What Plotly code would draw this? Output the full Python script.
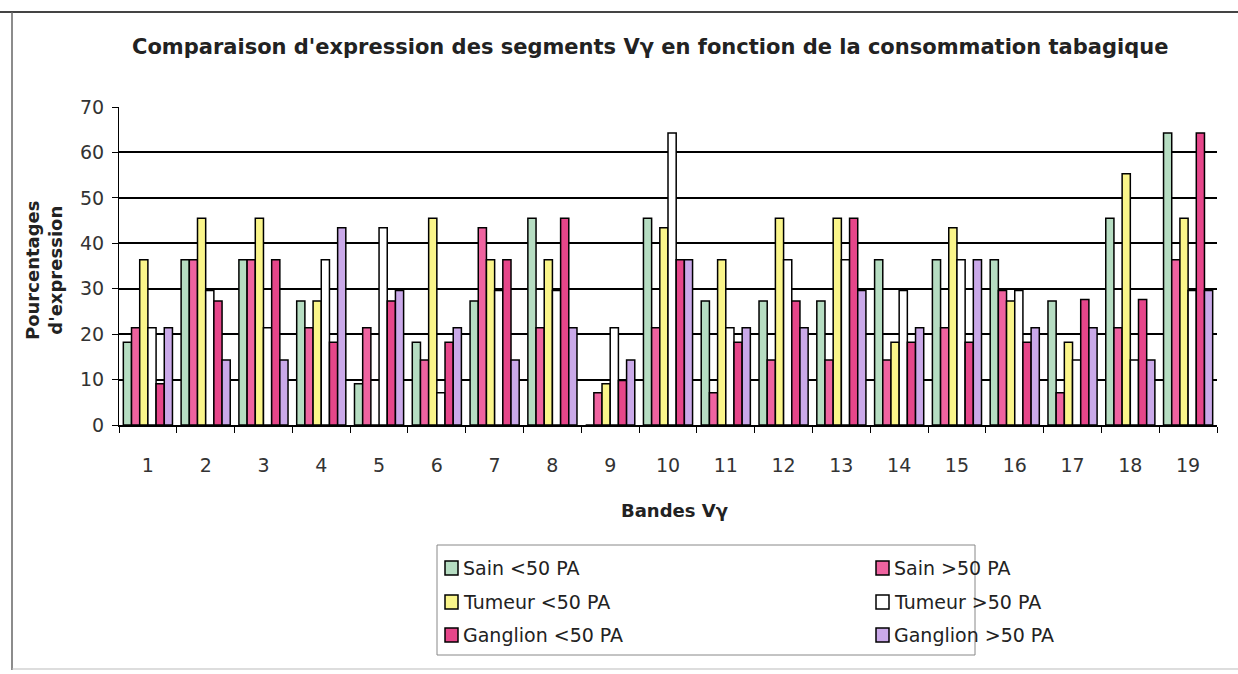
import plotly.graph_objects as go

# Bandes Vγ 1..19
bandes = [str(i) for i in range(1, 20)]

sain_moins = [18.2, 36.4, 36.4, 27.3, 9.1, 18.2, 27.3, 45.5, 0, 45.5, 27.3, 27.3, 27.3, 36.4, 36.4, 36.4, 27.3, 45.5, 64.3]
sain_plus = [21.4, 36.4, 36.4, 21.4, 21.4, 14.3, 43.4, 21.4, 7.1, 21.4, 7.1, 14.3, 14.3, 14.3, 21.4, 29.6, 7.1, 21.4, 36.4]
tumeur_moins = [36.4, 45.5, 45.5, 27.3, 0, 45.5, 36.4, 36.4, 9.1, 43.4, 36.4, 45.5, 45.5, 18.2, 43.4, 27.3, 18.2, 55.3, 45.5]
tumeur_plus = [21.4, 29.6, 21.4, 36.4, 43.4, 7.1, 29.6, 29.6, 21.4, 64.3, 21.4, 36.4, 36.4, 29.6, 36.4, 29.6, 14.3, 14.3, 29.6]
ganglion_moins = [9.1, 27.3, 36.4, 18.2, 27.3, 18.2, 36.4, 45.5, 9.8, 36.4, 18.2, 27.3, 45.5, 18.2, 18.2, 18.2, 27.6, 27.6, 64.3]
ganglion_plus = [21.4, 14.3, 14.3, 43.4, 29.6, 21.4, 14.3, 21.4, 14.3, 36.4, 21.4, 21.4, 29.6, 21.4, 36.4, 21.4, 21.4, 14.3, 29.6]

series_names = ["Sain <50 PA", "Sain >50 PA", "Tumeur <50 PA",
                "Tumeur >50 PA", "Ganglion <50 PA", "Ganglion >50 PA"]
series_values = [sain_moins, sain_plus, tumeur_moins, tumeur_plus, ganglion_moins, ganglion_plus]
series_colors = ["#b6ddc2", "#ef63a0", "#faf58a", "#ffffff", "#e6468a", "#caa9e9"]

W, H = 1238, 674
L, R, T, B = 119, 21, 107, 249
PW, PH = W - L - R, H - T - B

FONT = "DejaVu Sans"


def px(x):
    return (x - L) / PW


def py(y):
    return (H - B - y) / PH


fig = go.Figure()
for name, vals, col in zip(series_names, series_values, series_colors):
    fig.add_trace(go.Bar(
        x=bandes, y=vals, name=name,
        marker=dict(color=col, line=dict(color="black", width=1.5)),
        showlegend=False,
    ))

shapes = []
annotations = []

# outer frame of the chart
shapes.append(dict(type="line", xref="paper", yref="paper",
                   x0=px(0), x1=px(W), y0=py(12), y1=py(12),
                   line=dict(color="#444", width=2)))
shapes.append(dict(type="line", xref="paper", yref="paper",
                   x0=px(12), x1=px(12), y0=py(12), y1=py(670),
                   line=dict(color="#666", width=1.5)))
shapes.append(dict(type="line", xref="paper", yref="paper",
                   x0=px(12), x1=px(W), y0=py(669), y1=py(669),
                   line=dict(color="#bbb", width=1)))

# title
annotations.append(dict(
    text="<b>Comparaison d'expression des segments Vγ en fonction de la consommation tabagique</b>",
    xref="paper", yref="paper", x=px(650), y=py(47), showarrow=False,
    xanchor="center", yanchor="middle",
    font=dict(family=FONT, size=21, color="#222")))

# axis titles
annotations.append(dict(
    text="<b>Bandes Vγ</b>", xref="paper", yref="paper",
    x=px(674), y=py(510), showarrow=False, xanchor="center", yanchor="middle",
    font=dict(family=FONT, size=18, color="#222")))
annotations.append(dict(
    text="<b>Pourcentages<br>d'expression</b>", xref="paper", yref="paper",
    x=px(44), y=py(270), showarrow=False, xanchor="center", yanchor="middle",
    textangle=-90, font=dict(family=FONT, size=18, color="#222")))

# legend box with two columns of entries
shapes.append(dict(type="rect", xref="paper", yref="paper",
                   x0=px(437), x1=px(975), y0=py(545), y1=py(655),
                   line=dict(color="#888", width=1), fillcolor="white"))
col_x = [445, 876]
row_y = [568, 602, 635]
for i, (name, col) in enumerate(zip(series_names, series_colors)):
    cx = col_x[i % 2]
    cy = row_y[i // 2]
    shapes.append(dict(type="rect", xref="paper", yref="paper",
                       x0=px(cx), x1=px(cx + 13), y0=py(cy - 7), y1=py(cy + 7),
                       line=dict(color="black", width=1.5), fillcolor=col))
    annotations.append(dict(
        text=name, xref="paper", yref="paper", x=px(cx + 16), y=py(cy),
        showarrow=False, xanchor="left", yanchor="middle",
        font=dict(family=FONT, size=19, color="#222")))

fig.update_layout(
    width=W, height=H,
    margin=dict(l=L, r=R, t=T, b=B),
    paper_bgcolor="white", plot_bgcolor="white",
    barmode="group", bargap=0.15, bargroupgap=0,
    font=dict(family=FONT, size=16, color="#222"),
    shapes=shapes, annotations=annotations,
    showlegend=False,
)
fig.update_yaxes(
    range=[0, 70], dtick=10, showgrid=True, gridcolor="black", gridwidth=2,
    zeroline=False, showline=True, linecolor="black", linewidth=1,
    ticks="outside", ticklen=6, tickcolor="black",
    tickfont=dict(family=FONT, size=19, color="#333"), ticklabelstandoff=4,
)
fig.update_xaxes(
    type="category", tickson="boundaries", ticks="outside", ticklen=6,
    tickcolor="black", showline=True, linecolor="black", linewidth=2,
    showgrid=False, tickfont=dict(family=FONT, size=19, color="#333"),
    ticklabelstandoff=22,
)

fig.write_html("out.html")
